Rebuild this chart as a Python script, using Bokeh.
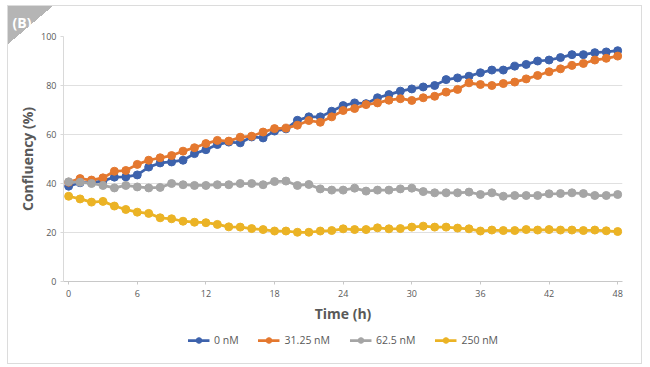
from bokeh.plotting import figure
from bokeh.models import Legend, LegendItem, FixedTicker, Range1d
from bokeh.layouts import column
from bokeh.embed import file_html
from bokeh.resources import INLINE

hours = list(range(0, 49))

conc_0 = [38.9, 40.3, 40.5, 41.0, 42.6, 42.7, 43.5, 46.7, 48.4, 48.8, 49.5, 52.2, 53.8,
          55.9, 56.9, 56.6, 59.0, 58.6, 61.4, 62.3, 65.8, 67.2, 67.2, 69.5, 71.8,
          72.9, 72.6, 75.0, 76.3, 77.7, 78.6, 79.4, 80.0, 82.4, 83.1, 83.8, 85.2,
          86.3, 86.3, 87.9, 88.6, 90.0, 90.4, 91.4, 92.6, 92.6, 93.4, 93.7, 94.2]
conc_31 = [40.5, 42.0, 41.4, 42.3, 45.0, 45.3, 47.8, 49.5, 50.5, 51.4, 53.2, 54.6, 56.3,
           57.6, 57.3, 58.9, 59.3, 61.0, 62.4, 62.6, 63.8, 65.7, 65.0, 67.2, 69.8,
           70.6, 72.2, 72.9, 74.0, 74.6, 73.9, 75.0, 75.6, 77.3, 78.4, 81.1, 80.4,
           80.0, 80.8, 81.4, 82.7, 84.1, 85.6, 86.8, 88.2, 89.0, 90.4, 91.1, 92.0]
conc_62 = [40.7, 40.5, 40.0, 39.2, 38.2, 39.2, 38.6, 38.2, 38.4, 40.0, 39.5, 39.2, 39.2,
           39.5, 39.5, 40.0, 40.0, 39.5, 40.8, 41.0, 39.2, 39.6, 37.8, 37.3, 37.3,
           38.1, 36.9, 37.3, 37.3, 37.8, 38.1, 36.7, 36.2, 36.2, 36.2, 36.5, 35.5,
           36.2, 34.8, 35.1, 35.1, 35.1, 35.8, 35.9, 36.2, 35.9, 35.1, 35.1, 35.5]
conc_250 = [34.8, 33.7, 32.4, 32.7, 30.8, 29.4, 28.3, 27.8, 26.0, 25.6, 24.6, 24.2, 24.0,
            23.3, 22.3, 22.2, 21.6, 21.2, 20.6, 20.6, 20.1, 20.1, 20.6, 20.8, 21.5,
            21.2, 21.2, 21.9, 21.5, 21.6, 22.2, 22.6, 22.2, 22.2, 21.8, 21.5, 20.6,
            21.0, 20.8, 20.8, 21.2, 21.0, 21.2, 21.0, 21.0, 20.8, 21.0, 20.7, 20.4]

series_names = ["0 nM", "31.25 nM", "62.5 nM", "250 nM"]
series_values = [conc_0, conc_31, conc_62, conc_250]
series_colors = ["#3D62AC", "#E4782F", "#A5A5A5", "#EBB325"]
x_ticks = [0, 6, 12, 18, 24, 30, 36, 42, 48]
y_ticks = [0, 20, 40, 60, 80, 100]

FONT = "Open Sans"
TXT = "#595959"

# ---------------- main chart ----------------
p = figure(width=635, height=320, output_backend="svg", toolbar_location=None,
           x_range=Range1d(-0.45, 48.42), y_range=Range1d(0, 100),
           min_border_left=56, min_border_right=20, min_border_top=31,
           min_border_bottom=43)
p.outline_line_color = None
p.background_fill_color = "white"
p.border_fill_color = None
p.xgrid.visible = False
p.ygrid.grid_line_color = "#E0E0E0"
p.ygrid.grid_line_width = 1

p.title.text = "(B)"
p.title.align = "left"
p.title.offset = -51
p.title.text_color = "white"
p.title.text_font = FONT
p.title.text_font_size = "14px"
p.title.text_font_style = "bold"
p.title.standoff = 10

p.xaxis.ticker = FixedTicker(ticks=x_ticks)
p.yaxis.ticker = FixedTicker(ticks=y_ticks)
p.xaxis.minor_tick_line_color = None
p.yaxis.minor_tick_line_color = None
for ax in (p.xaxis, p.yaxis):
    ax.major_tick_in = 0
    ax.major_tick_out = 3
    ax.major_label_text_font = FONT
    ax.major_label_text_font_size = "9px"
    ax.major_label_text_color = TXT
    ax.axis_label_text_font = FONT
    ax.axis_label_text_font_size = "14px"
    ax.axis_label_text_font_style = "bold"
    ax.axis_label_text_color = TXT
p.xaxis.axis_line_color = "#C8C8C8"
p.xaxis.major_tick_line_color = "#C8C8C8"
p.yaxis.axis_line_color = "#D9D9D9"
p.yaxis.major_tick_line_color = "#D9D9D9"
p.xaxis.major_label_standoff = 5
p.yaxis.major_label_standoff = 4
p.xaxis.axis_label = "Time (h)"
p.yaxis.axis_label = "Confluency (%)"
p.xaxis.axis_label_standoff = 4
p.yaxis.axis_label_standoff = 1

for vals, col in zip(series_values, series_colors):
    p.line(hours, vals, line_color=col, line_width=2.75)
    p.scatter(hours, vals, size=8, fill_color=col, line_color=col)

# ---------------- legend strip (same series, ranges kept off the data) ----------------
q = figure(width=635, height=39, output_backend="svg", toolbar_location=None,
           x_range=Range1d(1000, 1001), y_range=Range1d(1000, 1001),
           x_axis_type=None, y_axis_type=None,
           min_border_left=56, min_border_right=20, min_border_top=0,
           min_border_bottom=9)
q.outline_line_color = None
q.background_fill_color = None
q.border_fill_color = None
q.xgrid.visible = False
q.ygrid.visible = False

items = []
for name, vals, col in zip(series_names, series_values, series_colors):
    ln = q.line(hours, vals, line_color=col, line_width=2.75)
    sc = q.scatter(hours, vals, size=8, fill_color=col, line_color=col)
    items.append(LegendItem(label=name, renderers=[ln, sc]))

legend = Legend(items=items, orientation="horizontal", location="center",
                label_text_font=FONT, label_text_font_size="10.5px",
                label_text_color=TXT, glyph_width=22, glyph_height=14,
                label_standoff=5, spacing=19, padding=4, margin=0,
                border_line_color=None, background_fill_alpha=0)
q.add_layout(legend, "center")

card = column(p, q, spacing=0, margin=(5, 0, 0, 7))
card.styles = {
    "outline": "1px solid #DCDCDC",
    "outline-offset": "-1px",
    "background-image": "linear-gradient(to bottom right, #B5B5B5 50%, rgba(255,255,255,0) 50%)",
    "background-repeat": "no-repeat",
    "background-size": "47px 40px",
    "background-color": "white",
}

open("out.html", "w").write(file_html(card, INLINE))
